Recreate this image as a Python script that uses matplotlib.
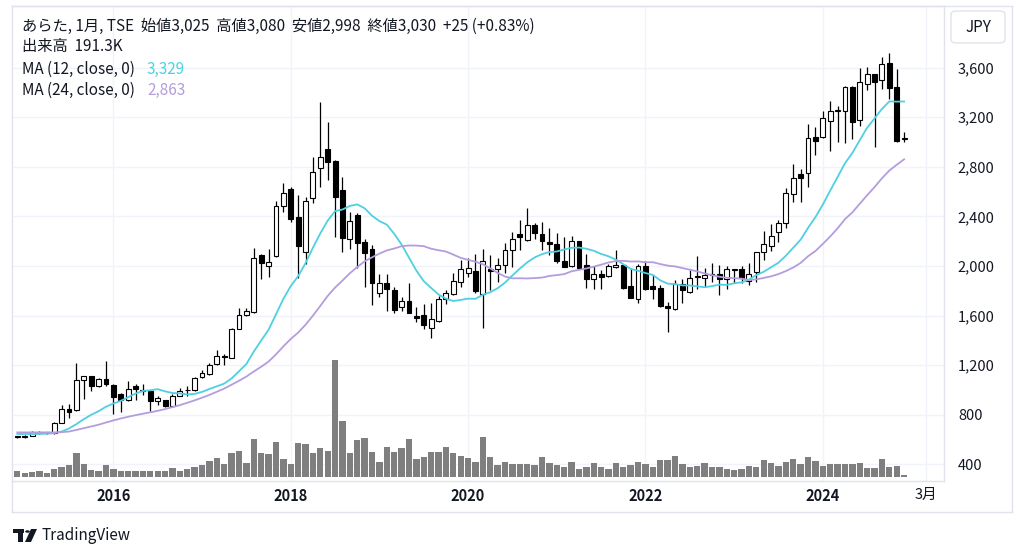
import numpy as np
import pandas as pd
import matplotlib.pyplot as plt
from matplotlib.patches import FancyBboxPatch, Rectangle, Circle, Polygon
from matplotlib.lines import Line2D

plt.rcParams['font.family'] = ['Noto Sans CJK JP', 'DejaVu Sans']

W, H = 1024, 557

# monthly bars, Dec 2014 .. Dec 2024 (index 0 = Dec 2014)
opens = [625, 622, 633, 662, 655, 650, 735, 848, 837, 1083, 1110, 1030, 1092, 1043, 971, 917,
         1030, 992, 995, 914, 917, 869, 955, 996, 998, 1102, 1129, 1212, 1268, 1258, 1493, 1601,
         1626, 2089, 2003, 2083, 2486, 2621, 2392, 2116, 2546, 2793, 2941, 2847, 2613, 2218, 2411, 2191,
         2134, 1780, 1860, 1806, 1667, 1720, 1600, 1605, 1497, 1559, 1734, 1774, 1868, 1941, 1958, 1772,
         1973, 1973, 2008, 2129, 2255, 2210, 2331, 2255, 2196, 2175, 2040, 2000, 2202, 2008, 1895, 1933,
         1919, 1989, 2008, 1841, 1731, 2000, 1841, 1825, 1677, 1651, 1852, 1788, 1912, 1906, 1926, 1933,
         1892, 1970, 1973, 1879, 1954, 2116, 2161, 2271, 2344, 2578, 2742, 2747, 3038, 3038, 3172, 3253,
         3253, 3446, 3177, 3465, 3546, 3500, 3634, 3446, 3025]
highs = [632, 635, 672, 672, 660, 743, 882, 890, 1217, 1115, 1112, 1095, 1236, 1050, 975, 1075,
         1051, 1049, 998, 949, 920, 971, 1016, 1035, 1102, 1158, 1215, 1319, 1292, 1500, 1660, 1659,
         2142, 2094, 2134, 2524, 2667, 2640, 2573, 2554, 2882, 3325, 3164, 2855, 2715, 2438, 2425, 2215,
         2169, 1935, 1935, 1833, 1753, 1860, 1672, 1691, 1699, 1761, 1806, 1946, 2048, 2067, 2095, 2137,
         2089, 2062, 2183, 2271, 2371, 2470, 2344, 2352, 2304, 2263, 2236, 2242, 2205, 2094, 2000, 1968,
         2016, 2129, 2016, 1981, 2016, 2043, 1927, 1847, 1712, 1887, 1892, 1968, 2081, 1981, 2027, 2008,
         2000, 1976, 2000, 2022, 2116, 2285, 2336, 2371, 2632, 2820, 2782, 3142, 3124, 3253, 3331, 3290,
         3452, 3450, 3594, 3602, 3550, 3688, 3715, 3586, 3080]
lows = [612, 615, 628, 648, 648, 648, 730, 775, 830, 928, 990, 1025, 1035, 807, 821, 910,
        917, 957, 834, 877, 865, 865, 950, 949, 995, 1095, 1125, 1205, 1204, 1255, 1490, 1595,
        1620, 1895, 1914, 2070, 2438, 2352, 1901, 2013, 2505, 2640, 2694, 2231, 2116, 2137, 1981, 1833,
        1685, 1747, 1637, 1624, 1640, 1620, 1546, 1492, 1417, 1550, 1691, 1765, 1833, 1914, 1780, 1497,
        1806, 1874, 1946, 1989, 2129, 2204, 2215, 2129, 2089, 2022, 1989, 1995, 1981, 1825, 1815, 1815,
        1909, 1980, 1815, 1740, 1704, 1806, 1734, 1672, 1470, 1648, 1699, 1780, 1812, 1833, 1874, 1766,
        1812, 1860, 1866, 1847, 1868, 2048, 2124, 2196, 2304, 2513, 2513, 2640, 2895, 3030, 2927, 3003,
        2995, 3021, 3132, 3419, 2962, 3425, 3347, 2997, 2998]
closes = [620, 628, 665, 655, 656, 735, 848, 824, 1083, 1110, 1035, 1089, 1051, 941, 923, 1008,
          1008, 990, 909, 936, 869, 949, 992, 998, 1097, 1137, 1204, 1271, 1266, 1493, 1601, 1640,
          2067, 2021, 2035, 2486, 2591, 2379, 2161, 2527, 2761, 2882, 2841, 2554, 2228, 2366, 2188, 2108,
          1866, 1866, 1815, 1645, 1718, 1624, 1583, 1524, 1573, 1731, 1785, 1882, 1973, 1987, 1800, 2040,
          1962, 2008, 2129, 2215, 2236, 2331, 2263, 2202, 2177, 2040, 1995, 2202, 1987, 1895, 1933, 1909,
          2003, 2008, 1825, 1745, 2000, 1815, 1815, 1680, 1664, 1855, 1806, 1900, 1916, 1927, 1929, 1892,
          1973, 1973, 1901, 1938, 2110, 2175, 2242, 2344, 2586, 2707, 2707, 3030, 3011, 3191, 3253, 3257,
          3446, 3164, 3481, 3546, 3486, 3626, 3438, 3005, 3030]
volumes_k = [542, 380, 475, 542, 380, 760, 884, 1074, 2280, 1169, 599, 570, 1074, 694, 542, 570,
             542, 504, 504, 504, 504, 827, 570, 694, 884, 1074, 1454, 1777, 1169, 2214, 2423, 1302,
             3544, 2214, 2119, 3259, 1682, 1207, 3164, 3069, 2280, 2689, 2442, 11087, 5320, 2280, 3487, 3705,
             2309, 1425, 2784, 2375, 2689, 3544, 1644, 1834, 2375, 2375, 2850, 2214, 1967, 1739, 1378, 3772,
             1900, 1112, 1425, 1207, 1207, 1207, 1074, 1900, 1330, 1112, 950, 1425, 694, 950, 1330, 950,
             694, 1264, 884, 1140, 1425, 1207, 884, 1587, 1587, 1967, 1207, 884, 1017, 1330, 874, 874,
             694, 637, 732, 1045, 950, 1587, 1264, 1017, 1425, 1644, 1169, 1834, 1492, 1045, 1207, 1207,
             1235, 1235, 1302, 855, 855, 1644, 950, 1017, 191.3]

ma12_head = [645, 645, 645, 646, 648, 652, 665, 690, 725, 765, 800]
ma24_head = [658, 658, 658, 658, 658, 658, 660, 665, 678, 692, 706, 720, 738, 755, 770, 784,
             797, 809, 820, 832, 846, 862, 878]

year_ticks = [13, 37, 61, 85, 109]
year_labels = ['2016', '2018', '2020', '2022', '2024']
month_tick = 123
month_label = '3月'
price_ticks = [400, 800, 1200, 1600, 2000, 2400, 2800, 3200, 3600]

TEXT = '#131722'
CYAN = '#4fd0e0'
PURPLE = '#b49ddd'
BORDER = '#e0e3eb'
GRID = '#f0f3fa'
FS = 11


def fx(x):
    return x / W


def fy(y):
    return 1 - y / H


def px_rect(left, top, right, bottom):
    return [fx(left), fy(bottom), (right - left) / W, (bottom - top) / H]


df = pd.DataFrame({'open': opens, 'high': highs, 'low': lows, 'close': closes, 'volume': volumes_k})
idx = np.arange(len(df))
ma12 = df['close'].rolling(12).mean().to_numpy()
ma24 = df['close'].rolling(24).mean().to_numpy()
ma12[:len(ma12_head)] = ma12_head
ma24[:len(ma24_head)] = ma24_head

fig = plt.figure(figsize=(W / 100, H / 100), dpi=100)

# plot pane in pixels
L, T, R, B = 12, 6, 944, 481
bar0_x, bar_step = 17.3, 7.39
y2000, px_per_yen = 266, 0.124

ax = fig.add_axes(px_rect(L, T, R, B))
ax.set_xlim((L - bar0_x) / bar_step, (R - bar0_x) / bar_step)
ax.set_ylim(2000 - (B - y2000) / px_per_yen, 2000 + (y2000 - T) / px_per_yen)

ax.grid(True, color=GRID, lw=1, zorder=0)
ax.set_axisbelow(True)

up = df['close'] >= df['open']
body_lo = np.minimum(df['open'], df['close'])
body_h = np.maximum(np.abs(df['close'] - df['open']), 6)

ax.vlines(idx, df['low'], df['high'], color='black', lw=0.9, zorder=2)
ax.bar(idx, body_h, bottom=body_lo, width=0.66,
       color=np.where(up, 'white', 'black'), edgecolor='black', lw=0.8, zorder=3)

ax.plot(idx, ma12, color=CYAN, lw=1.3, zorder=4)
ax.plot(idx, ma24, color=PURPLE, lw=1.3, zorder=4)

ax.yaxis.tick_right()
ax.set_yticks(price_ticks)
ax.set_yticklabels([f'{p:,}' for p in price_ticks])
ax.tick_params(axis='y', length=0, pad=10, labelsize=10.5, labelcolor=TEXT)

ax.set_xticks(year_ticks + [month_tick])
ax.set_xticklabels(year_labels + [month_label])
ax.tick_params(axis='x', length=0, pad=5, labelsize=10.5, labelcolor=TEXT)
for lab in ax.get_xticklabels()[:-1]:
    lab.set_fontweight('bold')

for side in ['left', 'top', 'right', 'bottom']:
    ax.spines[side].set_color(BORDER)
    ax.spines[side].set_linewidth(1)

# volume overlay, 1 px = 95K
ax_vol = fig.add_axes(px_rect(L, T, R, B), sharex=ax)
ax_vol.set_facecolor('none')
ax_vol.bar(idx, df['volume'], width=0.86, color='#7f7f7f', zorder=1)
ax_vol.set_ylim(-(B - 476.7) * 95, (476.7 - T) * 95)
ax_vol.axis('off')

# outer widget border
fig.add_artist(Line2D([fx(L), fx(1012)], [fy(T), fy(T)], color=BORDER, lw=1))
fig.add_artist(Line2D([fx(1012), fx(1012)], [fy(T), fy(512)], color=BORDER, lw=1))
fig.add_artist(Line2D([fx(L), fx(1012)], [fy(512), fy(512)], color=BORDER, lw=1))
fig.add_artist(Line2D([fx(L), fx(L)], [fy(B), fy(512)], color=BORDER, lw=1))

# JPY box
fig.add_artist(FancyBboxPatch((fx(951), fy(43)), (1005 - 951) / W, 32 / H,
                              boxstyle='round,pad=0,rounding_size=0.006',
                              transform=fig.transFigure, facecolor='white',
                              edgecolor=BORDER, lw=1))
fig.text(fx(978), fy(27), 'JPY', ha='center', va='center', fontsize=FS, color=TEXT)

# legend lines
fig.text(fx(22), fy(26), 'あらた, 1月, TSE  始値3,025  高値3,080  安値2,998  終値3,030  +25 (+0.83%)',
         ha='left', va='center', fontsize=FS, color=TEXT)
fig.text(fx(22), fy(47), '出来高  191.3K', ha='left', va='center', fontsize=FS, color=TEXT)
fig.text(fx(22), fy(69), 'MA (12, close, 0)', ha='left', va='center', fontsize=FS, color=TEXT)
fig.text(fx(147), fy(69), '3,329', ha='left', va='center', fontsize=FS, color=CYAN)
fig.text(fx(22), fy(90), 'MA (24, close, 0)', ha='left', va='center', fontsize=FS, color=TEXT)
fig.text(fx(147), fy(90), '2,863', ha='left', va='center', fontsize=FS, color=PURPLE)

# TradingView mark
fig.add_artist(Rectangle((fx(13), fy(533)), 11 / W, 4 / H, transform=fig.transFigure, color=TEXT, lw=0))
fig.add_artist(Rectangle((fx(18), fy(542)), 5 / W, 13 / H, transform=fig.transFigure, color=TEXT, lw=0))
fig.add_artist(Circle((fx(27.5), fy(531.5)), 2.3 / W, transform=fig.transFigure, color=TEXT, lw=0))
fig.add_artist(Polygon([(fx(31), fy(529)), (fx(37), fy(529)), (fx(31), fy(542)), (fx(25), fy(542))],
                       closed=True, transform=fig.transFigure, color=TEXT, lw=0))
fig.text(fx(42), fy(536), 'TradingView', ha='left', va='center', fontsize=11, color=TEXT)

fig.savefig('out.png', dpi=100, facecolor='white')
